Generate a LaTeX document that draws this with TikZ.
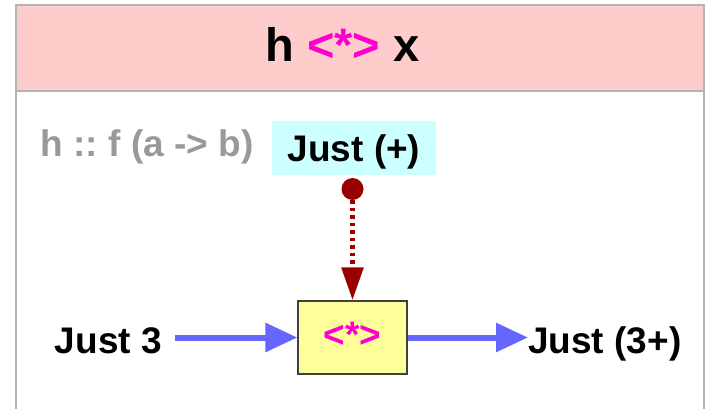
\documentclass[tikz,border=0pt]{standalone}
\usepackage{fontspec}
\setmainfont{Liberation Sans}
\usetikzlibrary{arrows.meta}
\definecolor{hdrpink}{HTML}{FFCCCC}
\definecolor{framegray}{HTML}{B3B3B3}
\definecolor{sigray}{HTML}{999999}
\definecolor{cyanbox}{HTML}{CCFFFF}
\definecolor{yellowbox}{HTML}{FFFF99}
\definecolor{opmag}{HTML}{FF00CC}
\definecolor{darkred}{HTML}{990000}
\definecolor{arrowblue}{HTML}{6666FF}
\frenchspacing
\begin{document}
\begin{tikzpicture}[x=1pt,y=-1pt,
  bodytext/.style={font=\fontsize{37}{41}\selectfont\bfseries, inner sep=0pt},
  titletext/.style={font=\fontsize{47}{52}\selectfont\bfseries, inner sep=0pt},
  framestyle/.style={draw=framegray, line width=1.5pt},
  bluearrow/.style={draw=arrowblue, line width=6pt, -{Triangle[length=32pt,width=28pt]}},
  redarrow/.style={draw=darkred, line width=5.5pt, dash pattern=on 3.5pt off 4pt, -{Triangle[length=33pt,width=21pt]}}
]
\useasboundingbox (0,0) rectangle (707,409);
\clip (0,0) rectangle (707,409);
\fill[white] (0,0) rectangle (707,409);
% frame and header
\fill[hdrpink] (16,5) rectangle (704,91);
\draw[framestyle] (16,5) rectangle (704,430);
\draw[framestyle] (16,91) -- (704,91);
% title
\node[titletext, anchor=base] (title) at (342.5,62) {h \textcolor{opmag}{<*>} x};
% signature
\node[bodytext, text=sigray, anchor=base] (sig) at (147,157) {h :: f (a -> b)};
% Just (+) box
\node[bodytext, fill=cyanbox, minimum width=164pt, minimum height=54pt,
      text height=34pt, text depth=6pt] (jp) at (354,148) {Just (+)};
% red dot
\node[circle, fill=darkred, inner sep=0pt, minimum size=22pt] (dot) at (352.5,189) {};
% operator box
\node[bodytext, draw=black!75, line width=1.2pt, fill=yellowbox, minimum width=109pt, minimum height=73pt,
      text height=22pt, text depth=3pt, text=opmag] (op) at (352.5,337.5) {<*>};
% inputs/outputs
\node[bodytext, anchor=base east] (j3) at (162,353) {Just 3};
\node[bodytext, anchor=base west] (res) at (528,353) {Just (3+)};
% connectors
\draw[redarrow] (dot.south) -- (op.north);
\draw[bluearrow] ([xshift=13pt]j3.east |- op.west) -- (op.west);
\draw[bluearrow] (op.east) -- (res.west |- op.east);
\end{tikzpicture}
\end{document}
